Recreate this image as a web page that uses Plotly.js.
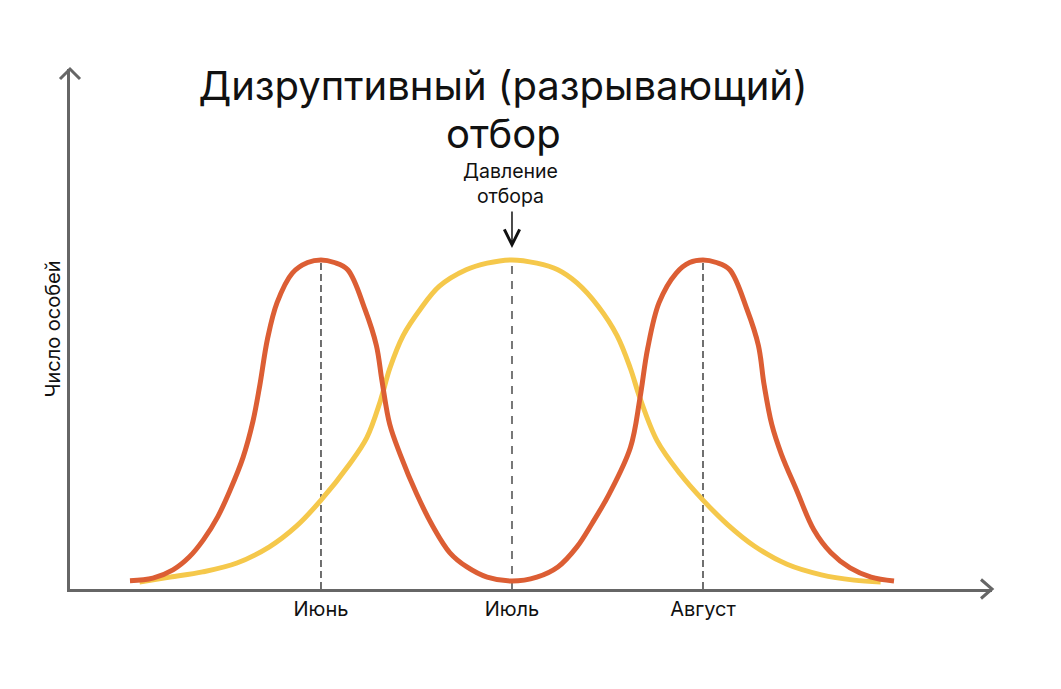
<!DOCTYPE html>
<html>
<head>
<meta charset="utf-8">
<script src="https://cdn.plot.ly/plotly-3.0.1.min.js"></script>
<style>
  body { margin: 0; background: #fff; }
  #chart { width: 1061px; height: 689px; }
</style>
</head>
<body>
<div id="chart"></div>
<script>
// x: months, curves run from 0 to 4; 1 = Июнь, 2 = Июль, 3 = Август
// y: число особей, peak = 100
var months = ['Июнь', 'Июль', 'Август'];
var monthPos = [1, 2, 3];
var peak = 100;

// bimodal curve after disruptive selection
var afterX = [0, 0.12, 0.225, 0.31, 0.385, 0.46, 0.524, 0.592, 0.644, 0.68, 0.72, 0.77, 0.85, 0.93, 1.0,
  1.07, 1.14, 1.23, 1.29, 1.32, 1.36, 1.414, 1.50, 1.586, 1.675, 1.764, 1.87, 2.0,
  2.13, 2.24, 2.34, 2.42, 2.51, 2.62, 2.67, 2.71, 2.77, 2.86, 2.93, 3.0,
  3.07, 3.14, 3.23, 3.29, 3.32, 3.36, 3.41, 3.49, 3.58, 3.67, 3.77, 3.88, 4.0];
var afterY = [2.5, 3.3, 5.8, 9.7, 15, 22, 30, 40, 51, 62, 76, 87, 96, 99.2, 100,
  99.2, 97, 85, 74, 63, 50, 41, 29, 19, 11, 6.7, 3.6, 2.4,
  3.6, 6.7, 12.8, 20, 29, 43, 58, 73, 87, 96, 99.2, 100,
  99.2, 97, 85, 74, 62, 50, 41, 30, 18, 11, 6.4, 3.6, 2.4];

// original unimodal curve
var beforeX = [0.05, 0.21, 0.38, 0.56, 0.73, 0.87, 1.0, 1.15, 1.24, 1.31, 1.36, 1.43,
  1.52, 1.62, 1.76, 1.87, 2.0, 2.13, 2.24, 2.34, 2.45, 2.55, 2.62, 2.67, 2.76,
  2.88, 3.0, 3.13, 3.27, 3.44, 3.62, 3.79, 3.93];
var beforeY = [2.1, 3.6, 5.2, 7.9, 12.8, 19, 27, 38, 46, 57, 67, 77,
  85, 92, 97, 99, 100, 99, 97, 93, 86, 77, 67, 58, 45,
  35, 27, 19.5, 13, 7.5, 4.3, 2.7, 2.1];

var font = 'Inter, "Noto Sans", sans-serif';

var data = [
  { // side guides
    x: [monthPos[0], monthPos[0], null, monthPos[2], monthPos[2]],
    y: [0, peak, null, 0, peak],
    mode: 'lines', type: 'scatter',
    line: { color: '#111', width: 1.2, dash: '7px,4px' },
    hoverinfo: 'skip'
  },
  { // middle guide
    x: [monthPos[1], monthPos[1]],
    y: [0, peak],
    mode: 'lines', type: 'scatter',
    line: { color: '#777', width: 2, dash: '8px,7px' },
    hoverinfo: 'skip'
  },
  {
    x: beforeX, y: beforeY,
    mode: 'lines', type: 'scatter', name: 'before',
    line: { color: '#F5C84B', width: 5, shape: 'spline', smoothing: 1 }
  },
  {
    x: afterX, y: afterY,
    mode: 'lines', type: 'scatter', name: 'after',
    line: { color: '#DC5E34', width: 5, shape: 'spline', smoothing: 1 }
  }
];

var axisColor = '#666';

var layout = {
  width: 1061,
  height: 689,
  margin: { l: 70, r: 69, t: 69, b: 100 },
  paper_bgcolor: '#fff',
  plot_bgcolor: '#fff',
  showlegend: false,
  title: {
    text: 'Дизруптивный (разрывающий)',
    font: { family: font, size: 40, color: '#111' },
    xref: 'container', x: 503 / 1061, xanchor: 'center',
    yref: 'container', y: 1 - 86 / 689, yanchor: 'middle'
  },
  xaxis: {
    range: [-0.314, 4.513],
    showline: true, linecolor: axisColor, linewidth: 3,
    showgrid: false, zeroline: false,
    tickvals: monthPos, ticktext: months, ticks: '',
    tickfont: { family: font, size: 20, color: '#111' },
    fixedrange: true
  },
  yaxis: {
    range: [0, 158],
    showline: true, linecolor: axisColor, linewidth: 3,
    showgrid: false, zeroline: false,
    showticklabels: false, ticks: '',
    title: {
      text: 'Число особей',
      font: { family: font, size: 20, color: '#111' },
      standoff: 2
    },
    fixedrange: true
  },
  shapes: [
    { // x axis arrow head
      type: 'path', xref: 'paper', yref: 'paper',
      path: 'M ' + (1 - 11 / 922) + ' ' + (9.5 / 520) + ' L 1 0 L ' + (1 - 11 / 922) + ' ' + (-9.5 / 520),
      line: { color: axisColor, width: 3 }
    },
    { // y axis arrow head
      type: 'path', xref: 'paper', yref: 'paper',
      path: 'M ' + (-10 / 922) + ' ' + (1 - 10 / 520) + ' L 0 1 L ' + (10 / 922) + ' ' + (1 - 10 / 520),
      line: { color: axisColor, width: 3 }
    }
  ],
  annotations: [
    {
      text: 'отбор',
      xref: 'paper', yref: 'paper',
      x: (503 - 70) / 922, y: (589 - 133) / 520,
      xanchor: 'center', yanchor: 'middle',
      showarrow: false,
      font: { family: font, size: 40, color: '#111' }
    },
    {
      text: 'Давление<br>отбора',
      xref: 'paper', yref: 'paper',
      x: (510 - 70) / 922, y: (589 - 183) / 520,
      xanchor: 'center', yanchor: 'middle',
      showarrow: false,
      font: { family: font, size: 19.5, color: '#111' }
    },
    {
      text: '',
      x: monthPos[1], y: 103.6,
      ax: 0, ay: -38,
      showarrow: true, arrowhead: 5, arrowsize: 2, arrowwidth: 1.5,
      arrowcolor: '#111'
    }
  ]
};

Plotly.newPlot('chart', data, layout, { displayModeBar: false, staticPlot: true });
</script>
</body>
</html>
